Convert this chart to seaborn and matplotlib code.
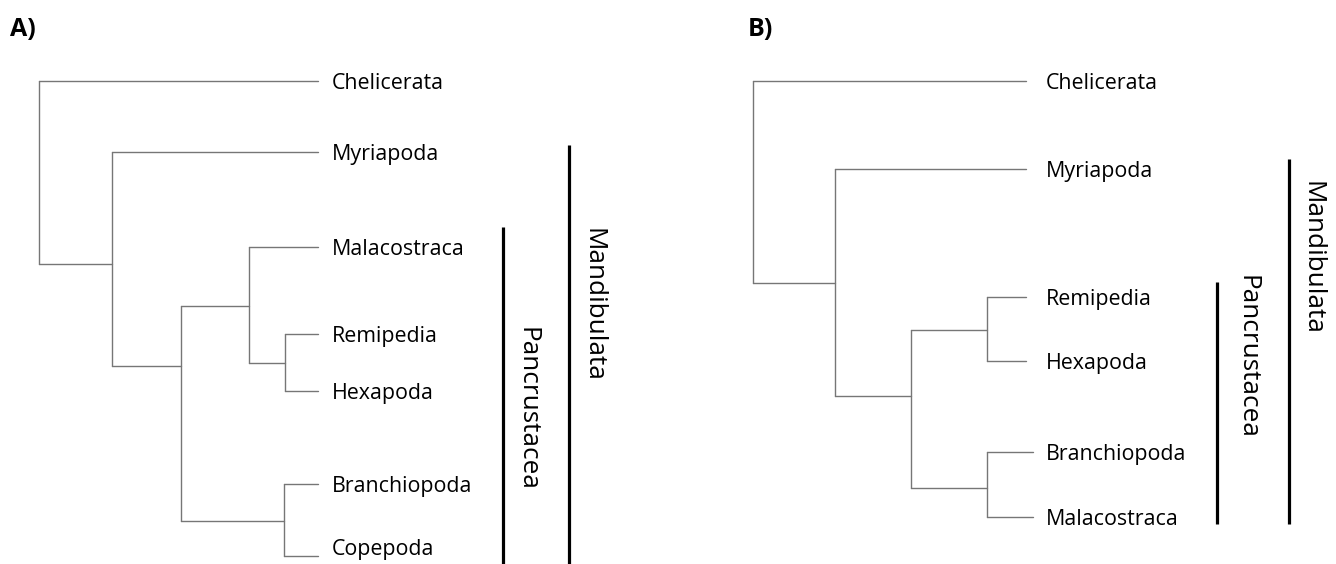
import pandas as pd
import matplotlib.pyplot as plt
import seaborn as sns

# ---- panel A: tree data (depth along x, leaf position along y, in pixels) ----
leaves_a = ["Chelicerata", "Myriapoda", "Malacostraca", "Remipedia",
            "Hexapoda", "Branchiopoda", "Copepoda"]
leaf_y_a = [81, 152, 247, 334, 391, 484, 556]
tip_x_a = [318, 318, 318, 318, 318, 318, 318]
nodes_a = ["root", "n2", "n3", "n4", "n5", "n6"]
node_x_a = [39, 112, 181, 249, 285, 284]
node_y_a = [172, 264, 366, 306, 363, 521]
children_a = [["Chelicerata", "n2"], ["Myriapoda", "n3"], ["n4", "n6"],
              ["Malacostraca", "n5"], ["Remipedia", "Hexapoda"],
              ["Branchiopoda", "Copepoda"]]

# ---- panel B ----
leaves_b = ["Chelicerata", "Myriapoda", "Remipedia", "Hexapoda",
            "Branchiopoda", "Malacostraca"]
leaf_y_b = [81, 169, 297, 361, 452, 517]
tip_x_b = [358, 358, 358, 358, 365, 365]
nodes_b = ["root", "n2", "n3", "n4", "n5"]
node_x_b = [85, 167, 243, 319, 319]
node_y_b = [180, 283, 396, 330, 488]
children_b = [["Chelicerata", "n2"], ["Myriapoda", "n3"], ["n4", "n5"],
              ["Remipedia", "Hexapoda"], ["Branchiopoda", "Malacostraca"]]

groups = ["Pancrustacea", "Mandibulata"]

# layout (pixels inside each half of the figure)
layout = {
    "A": dict(title="A)", title_x=10, label_x=332, bar_x=[503, 569],
              bar_top=[227, 145], bar_bottom=[564, 564],
              text_x=[527, 593], text_y=[409, 305]),
    "B": dict(title="B)", title_x=80, label_x=378, bar_x=[549, 621],
              bar_top=[282, 159], bar_bottom=[524, 524],
              text_x=[579, 644], text_y=[357, 258]),
}

sns.set_style("white")
plt.rcParams["font.family"] = ["Open Sans", "DejaVu Sans"]


def tree_segments(leaves, leaf_y, tip_x, nodes, node_x, node_y, children):
    pos = {n: (x, y) for n, x, y in zip(leaves, tip_x, leaf_y)}
    pos.update({n: (x, y) for n, x, y in zip(nodes, node_x, node_y)})
    rows = []
    seg = 0
    for n, kids in zip(nodes, children):
        x0 = pos[n][0]
        ys = [pos[c][1] for c in kids]
        rows += [(seg, x0, min(ys)), (seg, x0, max(ys))]
        seg += 1
        for c in kids:
            cx, cy = pos[c]
            rows += [(seg, x0, cy), (seg, cx, cy)]
            seg += 1
    return pd.DataFrame(rows, columns=["seg", "x", "y"])


fig = plt.figure(figsize=(13.36, 5.64), dpi=100)
ax_a = fig.add_axes([0, 0, 0.5, 1])
ax_b = fig.add_axes([0.5, 0, 0.5, 1])

panels = [
    (ax_a, "A", leaves_a, leaf_y_a, tip_x_a, nodes_a, node_x_a, node_y_a, children_a),
    (ax_b, "B", leaves_b, leaf_y_b, tip_x_b, nodes_b, node_x_b, node_y_b, children_b),
]

for ax, key, leaves, ly, tx, nodes, nx, ny, kids in panels:
    lay = layout[key]
    df = tree_segments(leaves, ly, tx, nodes, nx, ny, kids)
    sns.lineplot(data=df, x="x", y="y", units="seg", estimator=None, sort=False,
                 color="#767676", linewidth=1.0, legend=False, ax=ax)

    for name, y in zip(leaves, ly):
        # keep the lowest label inside the picture, as in the original
        ax.text(lay["label_x"], min(y + 8, 555), name, ha="left", va="baseline",
                fontsize=15.4, color="black")

    for i, g in enumerate(groups):
        ax.vlines(lay["bar_x"][i], lay["bar_top"][i], lay["bar_bottom"][i],
                  color="black", linewidth=2.3)
        ax.text(lay["text_x"][i], lay["text_y"][i], g, rotation=270,
                ha="center", va="center", fontsize=18.8, color="black")

    ax.text(lay["title_x"], 29, lay["title"], ha="left", va="center",
            fontsize=18, fontweight="bold", color="black")

    ax.set_xlim(0, 668)
    ax.set_ylim(564, 0)
    ax.axis("off")

fig.savefig("out.png", dpi=100, facecolor="white")
